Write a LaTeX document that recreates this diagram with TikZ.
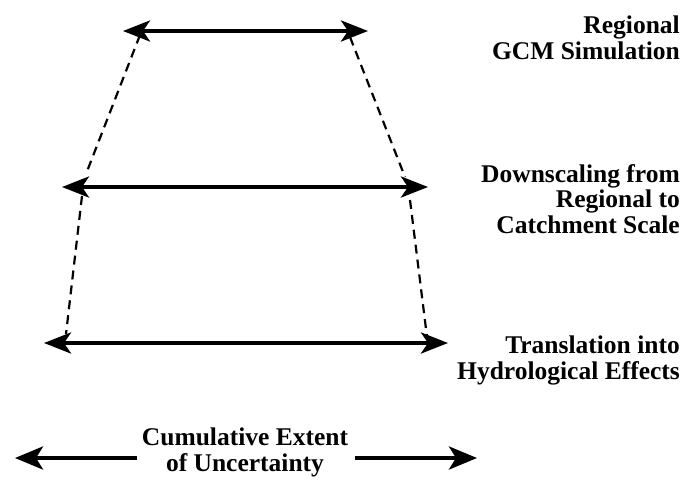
\documentclass[tikz,border=0pt]{standalone}
\usepackage{fontspec}
\setmainfont{Liberation Serif}
\usetikzlibrary{arrows.meta}
\begin{document}
\begin{tikzpicture}[x=1pt,y=-1pt,
  band/.style={line width=4pt,
    {Stealth[length=27pt,width=21pt,inset=7pt]}-{Stealth[length=27pt,width=21pt,inset=7pt]}},
  single/.style={line width=4pt, -{Stealth[length=28pt,width=23pt,inset=7pt]}},
  dashline/.style={line width=2.2pt, dash pattern=on 9pt off 6pt},
  lab/.style={font=\bfseries\fontsize{25.5}{25.5}\selectfont, align=right, inner sep=0pt, anchor=base east},
  clab/.style={font=\bfseries\fontsize{25.5}{25.5}\selectfont, align=center, inner sep=0pt, anchor=base}
]
\useasboundingbox (0,0) rectangle (696,483);
% arrow end points
\coordinate (t1) at (123,31);
\coordinate (t2) at (368,31);
\coordinate (m1) at (62,187);
\coordinate (m2) at (428,187);
\coordinate (b1) at (44,343);
\coordinate (b2) at (448,343);
% dashed guide end points
\coordinate (ul1) at (140,35);
\coordinate (ul2) at (86,174);
\coordinate (ll1) at (82,196);
\coordinate (ll2) at (66,334);
\coordinate (ur1) at (350,37);
\coordinate (ur2) at (405,177);
\coordinate (lr1) at (410,200);
\coordinate (lr2) at (427,337);
% dashed lines
\draw[dashline] (ul1) -- (ul2);
\draw[dashline] (ll1) -- (ll2);
\draw[dashline] (ur1) -- (ur2);
\draw[dashline] (lr1) -- (lr2);
% ranges
\draw[band] (t1) -- (t2);
\draw[band] (m1) -- (m2);
\draw[band] (b1) -- (b2);
% labels (anchor = baseline of the last line)
\node[lab] (l1) at (680,59) {Regional\\GCM Simulation};
\node[lab] (l2) at (680,233) {Downscaling from\\Regional to\\Catchment Scale};
\node[lab] (l3) at (680,379) {Translation into\\Hydrological Effects};
\node[clab] (cum) at (245,471) {Cumulative Extent\\of Uncertainty};
% cumulative arrows
\coordinate (cl1) at (137,458);
\coordinate (cl2) at (15,458);
\coordinate (cr1) at (355,458);
\coordinate (cr2) at (477,458);
\draw[single] (cl1) -- (cl2);
\draw[single] (cr1) -- (cr2);
\end{tikzpicture}
\end{document}
